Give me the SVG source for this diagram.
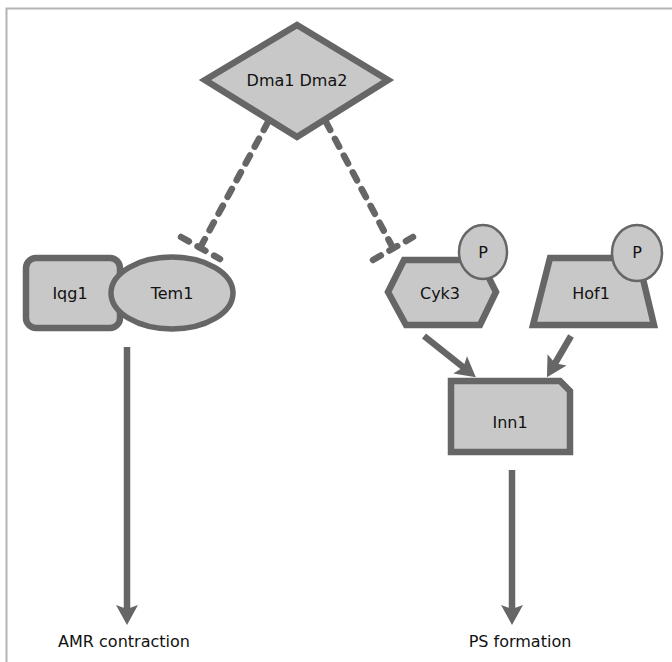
<svg xmlns="http://www.w3.org/2000/svg" width="672" height="662" viewBox="0 0 672 662">
<style>
.n{fill:#c8c8c8;stroke:#666;stroke-width:6.5;stroke-linejoin:miter}
.p{fill:#c8c8c8;stroke:#666;stroke-width:2.5}
.t{font-family:"DejaVu Sans",Verdana,sans-serif;font-size:16px;fill:#111;text-anchor:middle;dominant-baseline:central}
.d{stroke:#666;stroke-width:6.5;fill:none;stroke-dasharray:9 10;stroke-linecap:round}
.a{stroke:#666;stroke-width:6.5;fill:none}
</style>
<defs>
<marker id="ah" markerUnits="userSpaceOnUse" orient="auto" markerWidth="30" markerHeight="30" refX="0" refY="0" viewBox="-15 -15 30 30" overflow="visible">
<path d="M-10,-11 L10,0 L-10,11 L-6,0 Z" fill="#666"/>
</marker>
</defs>
<g id="frame"><path d="M6.5,662 V8.5 H672" fill="none" stroke="#b4b4b4" stroke-width="2"/></g>
<g id="connectors">
<line class="d" x1="268" y1="122" x2="200" y2="248"/>
<line class="d" x1="181" y1="237" x2="220" y2="259"/>
<line class="d" x1="326" y1="122" x2="393" y2="248"/>
<line class="d" x1="373" y1="260" x2="413" y2="237"/>
<line class="a" x1="424" y1="336" x2="468" y2="371" marker-end="url(#ah)"/>
<line class="a" x1="571" y1="336" x2="552" y2="368.5" marker-end="url(#ah)"/>
<line class="a" x1="127" y1="347" x2="127" y2="615" marker-end="url(#ah)"/>
<line class="a" x1="512" y1="470" x2="512" y2="615" marker-end="url(#ah)"/>
</g>
<g id="dma"><polygon class="n" points="297,25 388,80 297,137 205,80"/><text class="t" x="297" y="80">Dma1 Dma2</text></g>
<g id="iqg1"><rect class="n" x="26" y="258" width="94" height="70" rx="10"/><text class="t" x="70" y="293">Iqg1</text></g>
<g id="tem1"><ellipse class="n" cx="172" cy="293" rx="61" ry="36" style="stroke-width:5.5"/><text class="t" x="172" y="293">Tem1</text></g>
<g id="cyk3"><polygon class="n" points="404,260 480,260 496,292 480,325 406,325 388,292"/><text class="t" x="440" y="293">Cyk3</text>
<ellipse class="p" cx="483" cy="252" rx="24" ry="27"/><text class="t" x="483" y="252">P</text></g>
<g id="hof1"><polygon class="n" points="550,258 638,258 654,325 533,325"/><text class="t" x="591" y="293">Hof1</text>
<ellipse class="p" cx="637" cy="253" rx="25" ry="28"/><text class="t" x="637" y="252">P</text></g>
<g id="inn1"><path class="n" d="M451,381 H560 L570,391 V452 H451 Z"/><text class="t" x="510" y="422">Inn1</text></g>
<g id="amr"><text class="t" x="124" y="641">AMR contraction</text></g>
<g id="ps"><text class="t" x="520" y="641">PS formation</text></g>
</svg>
